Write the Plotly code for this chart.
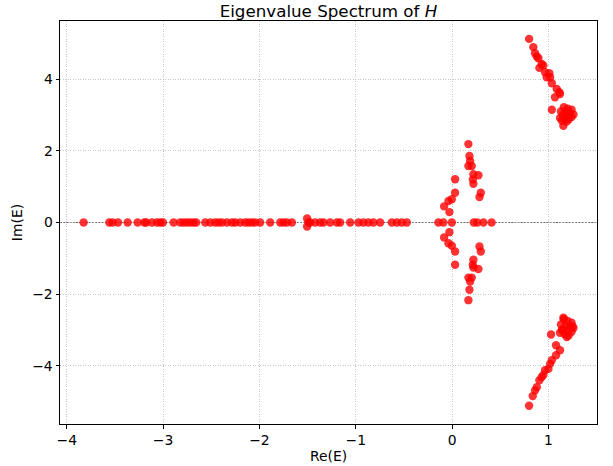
import plotly.graph_objects as go

# Real eigenvalues (Im = 0)
real_re = [-3.825, -3.558, -3.524, -3.468, -3.368, -3.264, -3.195, -3.174, -3.115, -3.063,
           -3.029, -3.001, -2.891, -2.822, -2.787, -2.752, -2.718, -2.684, -2.656,
           -2.562, -2.510, -2.459, -2.424, -2.389, -2.337, -2.285, -2.251, -2.199, -2.147,
           -2.113, -2.078, -2.044, -1.992, -1.888, -1.784, -1.750, -1.715, -1.663,
           -1.490, -1.473, -1.421, -1.369, -1.335, -1.266, -1.196, -1.162, -1.058,
           -0.972, -0.920, -0.868, -0.816, -0.747, -0.626, -0.574, -0.522, -0.470,
           -0.142, -0.090, -0.003, 0.225, 0.260, 0.325, 0.410]
real_im = [0.0] * len(real_re)

# Complex eigenvalues, upper half-plane
upper_re = [-1.505, -0.028, -0.083, -0.038, -0.003, 0.031, 0.031,
            0.169, 0.180, 0.187, 0.169, 0.204, 0.221, 0.273, 0.215, 0.221, 0.298, 0.284,
            0.799, 0.843, 0.861, 0.879, 0.896, 0.930, 0.947, 0.906, 0.965, 1.009, 1.017,
            0.982, 1.035, 1.086, 1.113, 1.120, 1.068, 1.035,
            1.16, 1.20, 1.24, 1.13, 1.18, 1.22, 1.26, 1.15, 1.20, 1.24, 1.12, 1.17, 1.21,
            1.19, 1.14, 1.155]
upper_im = [0.11, 0.29, 0.45, 0.60, 0.65, 0.83, 1.21,
            2.19, 1.86, 1.72, 1.58, 1.58, 1.35, 1.32, 1.20, 1.08, 0.83, 0.71,
            5.13, 4.90, 4.73, 4.64, 4.59, 4.43, 4.39, 4.32, 4.20, 4.17, 4.06,
            4.06, 3.89, 3.73, 3.64, 3.59, 3.50, 3.15,
            3.22, 3.18, 3.15, 3.10, 3.08, 3.05, 3.02, 3.00, 2.98, 2.95, 2.92, 2.90, 2.88,
            2.82, 2.84, 2.70]

# Complex eigenvalues, lower half-plane
lower_re = [-1.505, -0.028, -0.083, -0.038, -0.003, 0.031, 0.031,
            0.169, 0.180, 0.187, 0.169, 0.204, 0.221, 0.273, 0.215, 0.221, 0.298, 0.284,
            0.799, 0.837, 0.861, 0.879, 0.906, 0.930, 0.947, 0.965, 1.000, 1.017,
            1.035, 1.079, 1.120, 1.079, 1.027,
            1.16, 1.20, 1.24, 1.13, 1.18, 1.22, 1.26, 1.15, 1.20, 1.24, 1.12, 1.17, 1.21,
            1.19, 1.14, 1.155, 1.25]
lower_im = [-0.11, -0.27, -0.42, -0.58, -0.65, -0.81, -1.18,
            -2.17, -1.88, -1.65, -1.54, -1.54, -1.26, -1.30, -1.18, -1.04, -0.81, -0.67,
            -5.12, -4.85, -4.69, -4.60, -4.41, -4.32, -4.26, -4.13, -4.09, -3.95,
            -3.85, -3.71, -3.57, -3.43, -3.13,
            -2.70, -2.75, -2.80, -2.85, -2.88, -2.92, -2.95, -2.98, -3.02, -3.05, -3.08,
            -3.12, -3.16, -3.20, -3.00, -2.66, -2.90]

x_ticks = [-4, -3, -2, -1, 0, 1]
x_tick_labels = ["\u22124", "\u22123", "\u22122", "\u22121", "0", "1"]
y_ticks = [-4, -2, 0, 2, 4]
y_tick_labels = ["\u22124", "\u22122", "0", "2", "4"]

xs = real_re + upper_re + lower_re
ys = real_im + upper_im + lower_im

fig = go.Figure()
fig.add_trace(go.Scatter(
    x=xs, y=ys, mode="markers",
    marker=dict(size=8.4, color="rgba(255,0,0,0.8)", line=dict(width=0)),
    showlegend=False,
))

fig.add_shape(type="line", xref="paper", x0=0, x1=1, yref="y", y0=0, y1=0,
              line=dict(color="black", width=0.6, dash="2px,1.2px"), layer="below")

font = dict(family="DejaVu Sans", size=13.9, color="black")
grid = dict(showgrid=True, gridcolor="rgba(176,176,176,0.7)", gridwidth=0.8, griddash="1px,1.5px",
            zeroline=False, showline=True, linecolor="black", linewidth=1, mirror=True,
            ticks="outside", ticklen=3.5, tickwidth=0.8, tickcolor="black", tickfont=font,
            automargin=False)

fig.update_layout(
    width=613, height=466,
    margin=dict(l=60, r=16, t=21, b=42, autoexpand=False),
    paper_bgcolor="white", plot_bgcolor="white",
    font=font,
    hovermode=False,
    title=dict(text="Eigenvalue Spectrum of <i>H</i>", x=0.5, xref="paper", xanchor="center",
               y=1 - 11 / 466, yref="container", yanchor="middle",
               font=dict(family="DejaVu Sans", size=16.7, color="black")),
    xaxis=dict(range=[-4.07, 1.504], tickvals=x_ticks, ticktext=x_tick_labels,
               title=dict(text="Re(E)", font=font, standoff=1), **grid),
    yaxis=dict(range=[-5.63, 5.63], tickvals=y_ticks, ticktext=y_tick_labels,
               title=dict(text="Im(E)", font=font, standoff=6), **grid),
)

fig.write_html("out.html", config={"displayModeBar": False},
               post_script="document.body.style.margin='0px';")
